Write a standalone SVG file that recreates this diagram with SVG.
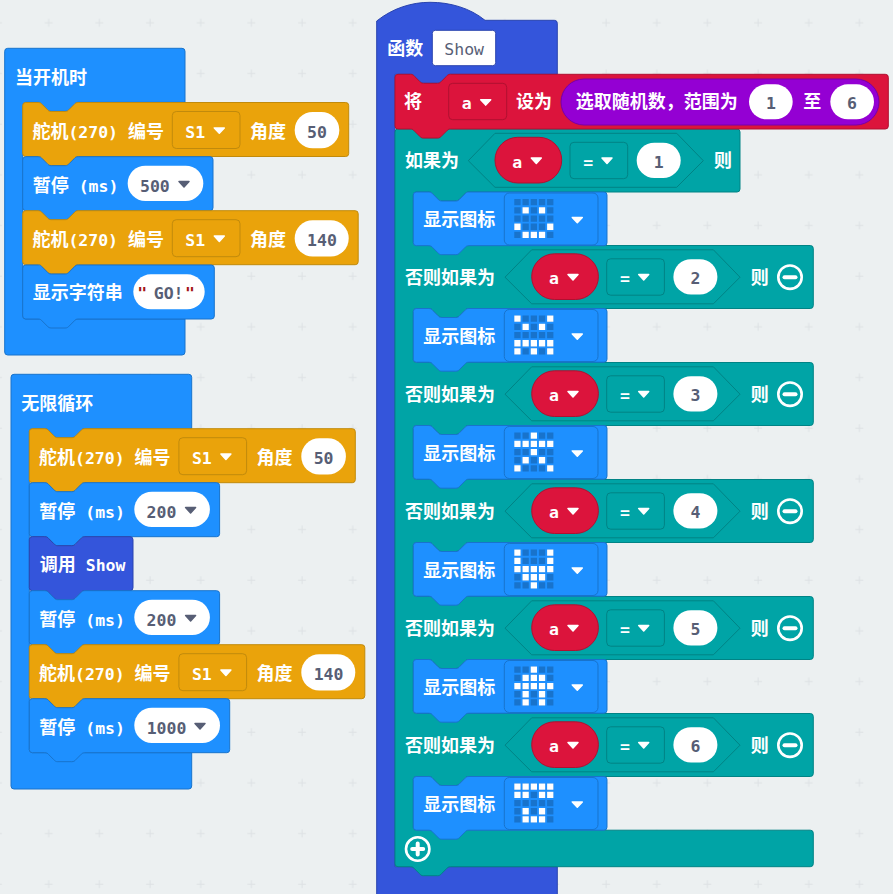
<svg xmlns="http://www.w3.org/2000/svg" width="893" height="894" viewBox="0 0 893 894">
<style>
text{font-family:"DejaVu Sans Mono","Noto Sans CJK SC",monospace;font-size:16.5px;font-weight:700}
.c{font-size:18px}
.t{fill:#fff}.v{fill:#575e75}.m{text-anchor:middle}.q{fill:#a31515}
.blue{fill:#1e90ff;stroke:#1873cc}.org{fill:#eaa30b;stroke:#c18a0c}.teal{fill:#00a4a6;stroke:#008385}
.red{fill:#dc143c;stroke:#b01030}.pur{fill:#9400d3;stroke:#7600a9}.fun{fill:#3455db;stroke:#2a44af}
.ddo{fill:none;stroke:#c18a0c}.ddr{fill:none;stroke:#b01030}.ddt{fill:none;stroke:#008385}
.w{fill:#fff;stroke-linejoin:round;stroke:#fff;stroke-width:1.5}.g{fill:#575e75;stroke:#575e75;stroke-linejoin:round;stroke-width:1.5}
.oval{fill:#fff}
.off{fill:none;stroke:#1873cc;stroke-width:6.3;stroke-dasharray:6.3 1.9}
.on{fill:#fff}
.ic{fill:none;stroke:#fff;stroke-width:2.6}
.bar{fill:none;stroke:#fff;stroke-width:4;stroke-linecap:round}
</style>
<defs>
<pattern id="grid" patternUnits="userSpaceOnUse" x="23.7" y="-2.3" width="50.67" height="50.67">
<path d="M21 25H29M25 21V29" stroke="#dde1e4" stroke-width="1" fill="none"/>
</pattern>
<path id="tri" d="M-5 -2.6H5L0 2.8Z"/>
<path id="servoA" d="M0 3q0-3 3-3H15.5c2 0 3 .8 4 2l5 5c1 1.2 2 2 4 2h14c2 0 3-.8 4-2l5-5c1-1.2 2-2 4-2H323q3 0 3 3V51q0 3-3 3H55.5c-2 0-3 .8-4 2l-5 5c-1 1.2-2 2-4 2h-14c-2 0-3-.8-4-2l-5-5c-1-1.2-2-2-4-2H3q-3 0-3-3Z"/>
<path id="servoB" d="M0 3q0-3 3-3H15.5c2 0 3 .8 4 2l5 5c1 1.2 2 2 4 2h14c2 0 3-.8 4-2l5-5c1-1.2 2-2 4-2H332.5q3 0 3 3V51q0 3-3 3H55.5c-2 0-3 .8-4 2l-5 5c-1 1.2-2 2-4 2h-14c-2 0-3-.8-4-2l-5-5c-1-1.2-2-2-4-2H3q-3 0-3-3Z"/>
<g id="servoBody">
<text class="t" x="9.7" y="35"><tspan class="c">舵机</tspan>(270) <tspan class="c">编号</tspan></text>
<rect class="ddo" x="149.6" y="9" width="67.7" height="37" rx="4"/>
<text class="t" x="162.6" y="35">S1</text>
<use class="w" href="#tri" x="196.6" y="28"/>
<text class="t c" x="227.3" y="35">角度</text>
</g>
<path id="pauseA" d="M0 3q0-3 3-3H15.5c2 0 3 .8 4 2l5 5c1 1.2 2 2 4 2h14c2 0 3-.8 4-2l5-5c1-1.2 2-2 4-2H187.3q3 0 3 3V51q0 3-3 3H55.5c-2 0-3 .8-4 2l-5 5c-1 1.2-2 2-4 2h-14c-2 0-3-.8-4-2l-5-5c-1-1.2-2-2-4-2H3q-3 0-3-3Z"/>
<text id="pauseT" class="t" x="10" y="35"><tspan class="c">暂停</tspan> (ms)</text>
<path id="disp" d="M0 3q0-3 3-3H15.5c2 0 3 .8 4 2l5 5c1 1.2 2 2 4 2h14c2 0 3-.8 4-2l5-5c1-1.2 2-2 4-2H190.7q3 0 3 3V50.7q0 3-3 3H55.5c-2 0-3 .8-4 2l-5 5c-1 1.2-2 2-4 2h-14c-2 0-3-.8-4-2l-5-5c-1-1.2-2-2-4-2H3q-3 0-3-3Z"/>
<g id="dispBody">
<use class="blue" href="#disp"/>
<text class="t c" x="10" y="34">显示图标</text>
<rect class="blue" x="91" y="1" width="93.7" height="52" rx="5"/>
<use class="w" href="#tri" x="164" y="28"/>
<path class="off" transform="translate(101 7)" d="M0 3.15H39.1M0 11.35H39.1M0 19.55H39.1M0 27.75H39.1M0 35.95H39.1"/>
</g>
<g id="cond">
<path class="teal" d="M0 0L26.7-27.4H208.4L235 0L208.4 26.6H26.7Z"/>
<rect class="red" x="26.7" y="-23.4" width="66.7" height="45.7" rx="22.8"/>
<text class="t" x="44" y="7">a</text>
<use class="w" href="#tri" x="68" y="0"/>
<rect class="ddt" x="101.7" y="-18.4" width="57.7" height="36.4" rx="4"/>
<text class="t" x="115" y="7">=</text>
<use class="w" href="#tri" x="138.7" y="0"/>
<rect class="oval" x="168.4" y="-18" width="44" height="35.3" rx="17.6"/>
</g>
<g id="minus"><circle class="ic" r="11.7"/><path class="bar" d="M-5.5 0H5.5"/></g>
</defs>

<rect width="893" height="894" fill="#ecf0f1"/>
<rect width="893" height="894" fill="url(#grid)"/>

<g id="connectors"></g>

<g id="on-start">
<path class="blue" transform="translate(4.7 48.3)" d="M3 0H177.3q3 0 3 3V54H73.5c-2 0-3 .8-4 2l-5 5c-1 1.2-2 2-4 2h-14c-2 0-3-.8-4-2l-5-5c-1-1.2-2-2-4-2H21q-3 0-3 3V267.7q0 3 3 3H180.3V303.7q0 3-3 3H3q-3 0-3-3V3q0-3 3-3Z"/>
<text class="t c" x="15" y="84">当开机时</text>
</g>
<g id="s1-servo-50" transform="translate(22.7 102.5)">
<use class="org" href="#servoA"/><use href="#servoBody"/>
<rect class="oval" x="272" y="9.5" width="44.6" height="36.3" rx="18"/>
<text class="v m" x="294.3" y="35">50</text>
</g>
<g id="s1-pause-500" transform="translate(22.7 156.7)">
<use class="blue" href="#pauseA"/><use href="#pauseT"/>
<rect class="oval" x="105" y="9" width="75.6" height="35.3" rx="17.6"/>
<text class="v" x="117.3" y="35">500</text>
<use class="g" href="#tri" x="161.3" y="27.5"/>
</g>
<g id="s1-servo-140" transform="translate(22.7 210.7)">
<use class="org" href="#servoB"/><use href="#servoBody"/>
<rect class="oval" x="272" y="9.5" width="54" height="36.3" rx="18"/>
<text class="v m" x="299.3" y="35">140</text>
</g>
<g id="s1-string" transform="translate(22.7 265)">
<path class="blue" d="M0 3q0-3 3-3H15.5c2 0 3 .8 4 2l5 5c1 1.2 2 2 4 2h14c2 0 3-.8 4-2l5-5c1-1.2 2-2 4-2H188.6q3 0 3 3V51q0 3-3 3H55.5c-2 0-3 .8-4 2l-5 5c-1 1.2-2 2-4 2h-14c-2 0-3-.8-4-2l-5-5c-1-1.2-2-2-4-2H3q-3 0-3-3Z"/>
<text class="t c" x="10" y="34">显示字符串</text>
<rect class="oval" x="110.6" y="9.3" width="71.4" height="35" rx="17.5"/>
<text class="v" y="34"><tspan class="q" x="114.6">"</tspan><tspan x="131">GO!</tspan><tspan class="q" x="162.2">"</tspan></text>
</g>

<g id="forever">
<path class="blue" transform="translate(11 374.3)" d="M3 0H177.7q3 0 3 3V54.4H73.8c-2 0-3 .8-4 2l-5 5c-1 1.2-2 2-4 2h-14c-2 0-3-.8-4-2l-5-5c-1-1.2-2-2-4-2H21.3q-3 0-3 3V375.4q0 3 3 3H180.7V411.7q0 3-3 3H3q-3 0-3-3V3q0-3 3-3Z"/>
<text class="t c" x="21.3" y="410">无限循环</text>
</g>
<g id="s2-servo-50" transform="translate(29.3 428.7)">
<use class="org" href="#servoA"/><use href="#servoBody"/>
<rect class="oval" x="272" y="9.5" width="44.6" height="36.3" rx="18"/>
<text class="v m" x="294.3" y="35">50</text>
</g>
<g id="s2-pause-200a" transform="translate(29.3 482.7)">
<use class="blue" href="#pauseA"/><use href="#pauseT"/>
<rect class="oval" x="105" y="9" width="75.6" height="35.3" rx="17.6"/>
<text class="v" x="117.3" y="35">200</text>
<use class="g" href="#tri" x="161.3" y="27.5"/>
</g>
<g id="s2-call" transform="translate(29.3 536.7)">
<path class="fun" d="M0 3q0-3 3-3H15.5c2 0 3 .8 4 2l5 5c1 1.2 2 2 4 2h14c2 0 3-.8 4-2l5-5c1-1.2 2-2 4-2H100.7q3 0 3 3V51q0 3-3 3H55.5c-2 0-3 .8-4 2l-5 5c-1 1.2-2 2-4 2h-14c-2 0-3-.8-4-2l-5-5c-1-1.2-2-2-4-2H3q-3 0-3-3Z"/>
<text class="t" x="10.5" y="34"><tspan class="c">调用</tspan> Show</text>
</g>
<g id="s2-pause-200b" transform="translate(29.3 590.7)">
<use class="blue" href="#pauseA"/><use href="#pauseT"/>
<rect class="oval" x="105" y="9" width="75.6" height="35.3" rx="17.6"/>
<text class="v" x="117.3" y="35">200</text>
<use class="g" href="#tri" x="161.3" y="27.5"/>
</g>
<g id="s2-servo-140" transform="translate(29.3 644.7)">
<use class="org" href="#servoB"/><use href="#servoBody"/>
<rect class="oval" x="272" y="9.5" width="54" height="36.3" rx="18"/>
<text class="v m" x="299.3" y="35">140</text>
</g>
<g id="s2-pause-1000" transform="translate(29.3 698.7)">
<path class="blue" d="M0 3q0-3 3-3H15.5c2 0 3 .8 4 2l5 5c1 1.2 2 2 4 2h14c2 0 3-.8 4-2l5-5c1-1.2 2-2 4-2H197.4q3 0 3 3V51q0 3-3 3H55.5c-2 0-3 .8-4 2l-5 5c-1 1.2-2 2-4 2h-14c-2 0-3-.8-4-2l-5-5c-1-1.2-2-2-4-2H3q-3 0-3-3Z"/>
<use href="#pauseT"/>
<rect class="oval" x="105" y="9" width="85.7" height="35.3" rx="17.6"/>
<text class="v" x="117.4" y="35">1000</text>
<use class="g" href="#tri" x="170.7" y="27.5"/>
</g>

<g id="function-show">
<path class="fun" d="M376.7 21C393 8 412 2.3 430 2.3C450 2.3 470 8 485 20.3H554.3q3 0 3 3V74.3H450.5c-2 0-3 .8-4 2l-5 5c-1 1.2-2 2-4 2h-14c-2 0-3-.8-4-2l-5-5c-1-1.2-2-2-4-2H395V866.7H557.3V900H376.7Z"/>
<text class="t c" x="387.3" y="55">函数</text>
<rect x="432.3" y="30.3" width="63.4" height="35.4" rx="3" fill="#fff" stroke="#2a44af"/>
<text class="v" x="444.3" y="55" style="font-weight:400">Show</text>
</g>

<g id="if-else">
<path class="teal" d="M398 129H410.5c2 0 3 .8 4 2l5 5c1 1.2 2 2 4 2h14c2 0 3-.8 4-2l5-5c1-1.2 2-2 4-2H737q3 0 3 3V189q0 3-3 3H468.8c-2 0-3 .8-4 2l-5 5c-1 1.2-2 2-4 2h-14c-2 0-3-.8-4-2l-5-5c-1-1.2-2-2-4-2H416.3q-3 0-3 3V242.5q0 3 3 3H810.3q3 0 3 3V305.5q0 3-3 3H468.8c-2 0-3 .8-4 2l-5 5c-1 1.2-2 2-4 2h-14c-2 0-3-.8-4-2l-5-5c-1-1.2-2-2-4-2H416.3q-3 0-3 3V359.5q0 3 3 3H810.3q3 0 3 3V422.5q0 3-3 3H468.8c-2 0-3 .8-4 2l-5 5c-1 1.2-2 2-4 2h-14c-2 0-3-.8-4-2l-5-5c-1-1.2-2-2-4-2H416.3q-3 0-3 3V476.5q0 3 3 3H810.3q3 0 3 3V539.5q0 3-3 3H468.8c-2 0-3 .8-4 2l-5 5c-1 1.2-2 2-4 2h-14c-2 0-3-.8-4-2l-5-5c-1-1.2-2-2-4-2H416.3q-3 0-3 3V593.5q0 3 3 3H810.3q3 0 3 3V656.5q0 3-3 3H468.8c-2 0-3 .8-4 2l-5 5c-1 1.2-2 2-4 2h-14c-2 0-3-.8-4-2l-5-5c-1-1.2-2-2-4-2H416.3q-3 0-3 3V710.5q0 3 3 3H810.3q3 0 3 3V773.5q0 3-3 3H468.8c-2 0-3 .8-4 2l-5 5c-1 1.2-2 2-4 2h-14c-2 0-3-.8-4-2l-5-5c-1-1.2-2-2-4-2H416.3q-3 0-3 3V827.2q0 3 3 3H810.3q3 0 3 3V863.7q0 3-3 3H450.5c-2 0-3 .8-4 2l-5 5c-1 1.2-2 2-4 2h-14c-2 0-3-.8-4-2l-5-5c-1-1.2-2-2-4-2H398q-3 0-3-3V132q0-3 3-3Z"/>
<text class="t c" x="405" y="167">如果为</text>
<g id="cond-1" transform="translate(468.3 160.7)"><use href="#cond"/><text class="v m" x="190.4" y="7">1</text></g>
<text class="t c" x="714" y="167">则</text>

<text class="t c" x="405" y="283.5">否则如果为</text>
<g id="cond-2" transform="translate(505 277.2)"><use href="#cond"/><text class="v m" x="190.4" y="7">2</text></g>
<text class="t c" x="750.7" y="283.5">则</text>
<use href="#minus" x="790" y="277.2"/>

<text class="t c" x="405" y="400.5">否则如果为</text>
<g id="cond-3" transform="translate(505 394.2)"><use href="#cond"/><text class="v m" x="190.4" y="7">3</text></g>
<text class="t c" x="750.7" y="400.5">则</text>
<use href="#minus" x="790" y="394.2"/>

<text class="t c" x="405" y="517.5">否则如果为</text>
<g id="cond-4" transform="translate(505 511.2)"><use href="#cond"/><text class="v m" x="190.4" y="7">4</text></g>
<text class="t c" x="750.7" y="517.5">则</text>
<use href="#minus" x="790" y="511.2"/>

<text class="t c" x="405" y="634.5">否则如果为</text>
<g id="cond-5" transform="translate(505 628.2)"><use href="#cond"/><text class="v m" x="190.4" y="7">5</text></g>
<text class="t c" x="750.7" y="634.5">则</text>
<use href="#minus" x="790" y="628.2"/>

<text class="t c" x="405" y="751.5">否则如果为</text>
<g id="cond-6" transform="translate(505 745.2)"><use href="#cond"/><text class="v m" x="190.4" y="7">6</text></g>
<text class="t c" x="750.7" y="751.5">则</text>
<use href="#minus" x="790" y="745.2"/>

<g id="plus" transform="translate(417.7 849)"><circle class="ic" r="11.7"/><path class="bar" d="M-5.5 0H5.5M0-5.5V5.5"/></g>
</g>

<g id="set-a" transform="translate(395 74.3)">
<path class="red" d="M0 3q0-3 3-3H15.5c2 0 3 .8 4 2l5 5c1 1.2 2 2 4 2h14c2 0 3-.8 4-2l5-5c1-1.2 2-2 4-2H490.3q3 0 3 3V51.7q0 3-3 3H55.5c-2 0-3 .8-4 2l-5 5c-1 1.2-2 2-4 2h-14c-2 0-3-.8-4-2l-5-5c-1-1.2-2-2-4-2H3q-3 0-3-3Z"/>
<text class="t c" x="9" y="34">将</text>
<rect class="ddr" x="53.7" y="9" width="58" height="36.4" rx="4"/>
<text class="t" x="66.7" y="35">a</text>
<use class="w" href="#tri" x="90.7" y="28"/>
<text class="t c" x="121" y="34">设为</text>
<rect class="pur" x="166" y="4.7" width="318" height="46" rx="23"/>
<text class="t c" x="180.7" y="34">选取随机数，范围为</text>
<rect class="oval" x="354" y="10" width="43.7" height="35" rx="17.5"/>
<text class="v m" x="376" y="35">1</text>
<text class="t c" x="408.3" y="34">至</text>
<rect class="oval" x="435.3" y="10" width="43.7" height="35" rx="17.5"/>
<text class="v m" x="457" y="35">6</text>
</g>

<g id="show-icon-1" transform="translate(413.3 192)"><use href="#dispBody"/>
<path class="on" transform="translate(101 7)" d="M8.2 8.2h6.3v6.3h-6.3zM24.6 8.2h6.3v6.3h-6.3zM0 24.6h6.3v6.3h-6.3zM32.8 24.6h6.3v6.3h-6.3zM8.2 32.8h6.3v6.3h-6.3zM16.4 32.8h6.3v6.3h-6.3zM24.6 32.8h6.3v6.3h-6.3z"/></g>
<g id="show-icon-2" transform="translate(413.3 308.5)"><use href="#dispBody"/>
<path class="on" transform="translate(101 7)" d="M0 0h6.3v6.3h-6.3zM32.8 0h6.3v6.3h-6.3zM8.2 8.2h6.3v6.3h-6.3zM24.6 8.2h6.3v6.3h-6.3zM0 24.6h6.3v6.3h-6.3zM8.2 24.6h6.3v6.3h-6.3zM16.4 24.6h6.3v6.3h-6.3zM24.6 24.6h6.3v6.3h-6.3zM32.8 24.6h6.3v6.3h-6.3zM0 32.8h6.3v6.3h-6.3zM16.4 32.8h6.3v6.3h-6.3zM32.8 32.8h6.3v6.3h-6.3z"/></g>
<g id="show-icon-3" transform="translate(413.3 425.5)"><use href="#dispBody"/>
<path class="on" transform="translate(101 7)" d="M16.4 0h6.3v6.3h-6.3zM0 8.2h6.3v6.3h-6.3zM8.2 8.2h6.3v6.3h-6.3zM16.4 8.2h6.3v6.3h-6.3zM24.6 8.2h6.3v6.3h-6.3zM32.8 8.2h6.3v6.3h-6.3zM16.4 16.4h6.3v6.3h-6.3zM8.2 24.6h6.3v6.3h-6.3zM24.6 24.6h6.3v6.3h-6.3zM0 32.8h6.3v6.3h-6.3zM32.8 32.8h6.3v6.3h-6.3z"/></g>
<g id="show-icon-4" transform="translate(413.3 542.5)"><use href="#dispBody"/>
<path class="on" transform="translate(101 7)" d="M0 0h6.3v6.3h-6.3zM32.8 0h6.3v6.3h-6.3zM0 8.2h6.3v6.3h-6.3zM32.8 8.2h6.3v6.3h-6.3zM0 16.4h6.3v6.3h-6.3zM8.2 16.4h6.3v6.3h-6.3zM16.4 16.4h6.3v6.3h-6.3zM24.6 16.4h6.3v6.3h-6.3zM32.8 16.4h6.3v6.3h-6.3zM8.2 24.6h6.3v6.3h-6.3zM16.4 24.6h6.3v6.3h-6.3zM24.6 24.6h6.3v6.3h-6.3zM16.4 32.8h6.3v6.3h-6.3z"/></g>
<g id="show-icon-5" transform="translate(413.3 659.5)"><use href="#dispBody"/>
<path class="on" transform="translate(101 7)" d="M16.4 0h6.3v6.3h-6.3zM8.2 8.2h6.3v6.3h-6.3zM16.4 8.2h6.3v6.3h-6.3zM24.6 8.2h6.3v6.3h-6.3zM0 16.4h6.3v6.3h-6.3zM8.2 16.4h6.3v6.3h-6.3zM16.4 16.4h6.3v6.3h-6.3zM24.6 16.4h6.3v6.3h-6.3zM32.8 16.4h6.3v6.3h-6.3zM8.2 24.6h6.3v6.3h-6.3zM24.6 24.6h6.3v6.3h-6.3zM8.2 32.8h6.3v6.3h-6.3zM24.6 32.8h6.3v6.3h-6.3z"/></g>
<g id="show-icon-6" transform="translate(413.3 776.5)"><use href="#dispBody"/>
<path class="on" transform="translate(101 7)" d="M0 0h6.3v6.3h-6.3zM8.2 0h6.3v6.3h-6.3zM16.4 0h6.3v6.3h-6.3zM24.6 0h6.3v6.3h-6.3zM32.8 0h6.3v6.3h-6.3zM0 8.2h6.3v6.3h-6.3zM8.2 8.2h6.3v6.3h-6.3zM24.6 8.2h6.3v6.3h-6.3zM32.8 8.2h6.3v6.3h-6.3zM8.2 24.6h6.3v6.3h-6.3zM24.6 24.6h6.3v6.3h-6.3zM8.2 32.8h6.3v6.3h-6.3zM16.4 32.8h6.3v6.3h-6.3zM24.6 32.8h6.3v6.3h-6.3z"/></g>
</svg>
